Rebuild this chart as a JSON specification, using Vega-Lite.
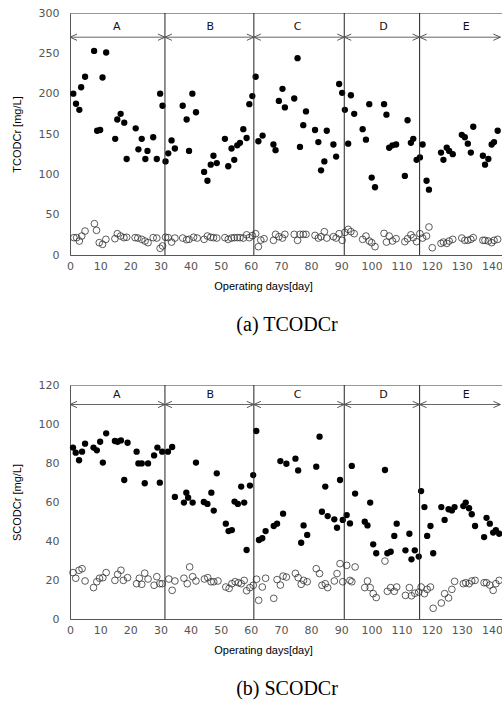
{
  "$schema": "https://vega.github.io/schema/vega-lite/v6.json",
  "background": "white",
  "padding": {"left": 10, "top": 6, "right": 0, "bottom": 0},
  "spacing": 42,
  "config": {
    "view": {"stroke": "#999", "strokeWidth": 1},
    "font": "Liberation Sans",
    "axis": {"grid": false, "ticks": false, "domainColor": "#555", "labelColor": "#555", "labelFontSize": 11, "labelFont": "DejaVu Sans", "labelOverlap": false, "labelFlush": false, "labelSeparation": 0, "titleFont": "Liberation Sans", "titleFontSize": 11, "titleFontWeight": "normal", "titleColor": "#000"},
    "title": {"font": "Liberation Serif", "fontSize": 20, "fontWeight": "normal", "color": "#000", "orient": "bottom", "offset": 24}
  },
  "datasets": {
    "phases": [{"d": 31.5}, {"d": 61}, {"d": 91}, {"d": 116}],
    "tI": [
      {"d":1.1,"v":200},{"d":2,"v":187.5},{"d":3.1,"v":180},{"d":3.7,"v":208},{"d":5,"v":221},{"d":8,"v":253},{"d":9,"v":154},{"d":10,"v":155},{"d":10.8,"v":220},{"d":12,"v":251},
      {"d":15,"v":144},{"d":15.7,"v":168},{"d":16.8,"v":175},{"d":18,"v":164},{"d":18.8,"v":119},{"d":21.8,"v":157},{"d":22.7,"v":131},{"d":23.8,"v":144},{"d":25,"v":119},{"d":25.7,"v":129},
      {"d":27.6,"v":146},{"d":28.8,"v":119},{"d":29.9,"v":200},{"d":30.7,"v":185},{"d":31.7,"v":116},{"d":32.6,"v":126},{"d":33.7,"v":142},{"d":34.8,"v":132},{"d":37.4,"v":185},{"d":38.7,"v":168},
      {"d":39.5,"v":129},{"d":40.6,"v":200},{"d":41.8,"v":177},{"d":44.5,"v":103},{"d":45.6,"v":92},{"d":46.7,"v":112},{"d":47.6,"v":123},{"d":48.7,"v":114},{"d":51.4,"v":144},{"d":52.5,"v":110},
      {"d":53.6,"v":132},{"d":54.5,"v":118},{"d":55.5,"v":136},{"d":56.4,"v":139},{"d":57.5,"v":156},{"d":58.6,"v":145},{"d":59.5,"v":187},{"d":60.5,"v":197},{"d":61.6,"v":221},{"d":62.5,"v":141},
      {"d":63.9,"v":148},{"d":67.5,"v":137},{"d":68.2,"v":130},{"d":69.3,"v":191},{"d":70.5,"v":206},{"d":71.3,"v":183},{"d":74.4,"v":194},{"d":75.5,"v":244},{"d":76.3,"v":134},{"d":77.4,"v":161},
      {"d":78.3,"v":178},{"d":81.3,"v":155},{"d":82.4,"v":140},{"d":83.3,"v":105},{"d":84.4,"v":116},{"d":85.2,"v":154},{"d":87.4,"v":137},{"d":88.3,"v":122},{"d":89.3,"v":212},{"d":90.3,"v":201},
      {"d":91.2,"v":180},{"d":92.3,"v":138},{"d":93.2,"v":198},{"d":94.3,"v":175},{"d":97.1,"v":156},{"d":98.2,"v":143},{"d":99.3,"v":187},{"d":100.1,"v":96},{"d":101.2,"v":84},{"d":104.2,"v":187},
      {"d":105,"v":174},{"d":105.9,"v":133},{"d":107,"v":136},{"d":108.2,"v":137},{"d":111.1,"v":98},{"d":112,"v":167},{"d":113.1,"v":139},{"d":113.9,"v":144},{"d":115,"v":118},{"d":116.1,"v":121},
      {"d":117,"v":137},{"d":118.3,"v":92},{"d":119.1,"v":81},{"d":123.1,"v":127},{"d":123.9,"v":118},{"d":125,"v":133},{"d":125.8,"v":129},{"d":127,"v":125},{"d":130,"v":149},{"d":131,"v":146},
      {"d":132,"v":138},{"d":133,"v":127},{"d":133.8,"v":159},{"d":137,"v":123},{"d":137.7,"v":112},{"d":138.8,"v":119},{"d":139.9,"v":137},{"d":140.7,"v":140},{"d":141.9,"v":154}
    ],
    "tE": [
      {"d":1.3,"v":21.5},{"d":2.2,"v":21.5},{"d":3.1,"v":17.3},{"d":3.9,"v":23.5},{"d":5,"v":29.7},{"d":8.1,"v":38.8},{"d":8.8,"v":30.6},{"d":9.7,"v":15.3},{"d":10.8,"v":13.2},{"d":11.9,"v":19.4},
      {"d":14.9,"v":20.2},{"d":15.7,"v":26.4},{"d":16.8,"v":23.5},{"d":17.9,"v":21.5},{"d":18.8,"v":22},{"d":21.6,"v":21.5},{"d":22.5,"v":21},{"d":23.8,"v":19.4},{"d":24.9,"v":17.3},{"d":25.9,"v":15.3},
      {"d":27.6,"v":21.5},{"d":28.8,"v":21},{"d":29.9,"v":8.3},{"d":30.7,"v":11.2},{"d":31.7,"v":22},{"d":32.6,"v":21.5},{"d":33.7,"v":16},{"d":34.8,"v":21},{"d":37.4,"v":21},{"d":38.7,"v":19},
      {"d":39.5,"v":19.4},{"d":41,"v":22},{"d":42.2,"v":21},{"d":44.5,"v":19.4},{"d":45.6,"v":23.5},{"d":46.7,"v":22},{"d":47.6,"v":21.5},{"d":48.7,"v":21},{"d":51.4,"v":21.5},{"d":52.5,"v":19.4},
      {"d":53.6,"v":21},{"d":54.5,"v":21.5},{"d":55.5,"v":21.5},{"d":56.4,"v":21.5},{"d":57.5,"v":21},{"d":58.6,"v":25},{"d":59.5,"v":21.5},{"d":60.5,"v":24},{"d":61.6,"v":26.4},{"d":62.5,"v":10.3},
      {"d":63.3,"v":18.5},{"d":64.4,"v":20.2},{"d":67.5,"v":18.2},{"d":68.2,"v":25.6},{"d":69.3,"v":22.7},{"d":70.5,"v":21},{"d":71.3,"v":25.6},{"d":74.4,"v":25.6},{"d":75.5,"v":18.2},{"d":76.3,"v":25.6},
      {"d":77.4,"v":25.6},{"d":78.3,"v":25.6},{"d":81.3,"v":24.3},{"d":82.4,"v":21},{"d":83.3,"v":22.7},{"d":84.4,"v":28.9},{"d":85.2,"v":21},{"d":87.4,"v":22.7},{"d":88.3,"v":21},{"d":89.3,"v":26.4},
      {"d":90.3,"v":18.2},{"d":91.2,"v":28},{"d":92.3,"v":31.8},{"d":93.2,"v":29},{"d":94.3,"v":26.4},{"d":97.1,"v":19.4},{"d":98.2,"v":23.5},{"d":99.3,"v":17.3},{"d":100.1,"v":15.3},{"d":101.2,"v":10.3},
      {"d":104.2,"v":26.8},{"d":105,"v":16},{"d":105.9,"v":23.5},{"d":107,"v":17.3},{"d":108.2,"v":20.2},{"d":111.1,"v":16.5},{"d":112,"v":20.2},{"d":113.1,"v":25},{"d":113.9,"v":21.5},{"d":115,"v":16.5},
      {"d":116.1,"v":26.4},{"d":117,"v":21},{"d":118.3,"v":23.5},{"d":119.1,"v":34.7},{"d":120.2,"v":9},{"d":123.1,"v":14.4},{"d":123.9,"v":16},{"d":125,"v":14.4},{"d":125.8,"v":17.3},{"d":127,"v":19.4},
      {"d":130,"v":21},{"d":131,"v":18.2},{"d":132,"v":18.2},{"d":133,"v":19.4},{"d":133.8,"v":21.5},{"d":137,"v":18.2},{"d":137.7,"v":18.2},{"d":138.8,"v":17.3},{"d":139.9,"v":15.3},{"d":140.7,"v":18.2},{"d":141.9,"v":19.4}
    ],
    "sI": [
      {"d":1,"v":87.9},{"d":1.9,"v":85.3},{"d":3,"v":81.4},{"d":4,"v":85.8},{"d":5,"v":89.9},{"d":7.8,"v":87.9},{"d":8.9,"v":86.5},{"d":10,"v":90.9},{"d":10.9,"v":80.2},{"d":12,"v":95.2},
      {"d":14.9,"v":91.3},{"d":15.8,"v":90.9},{"d":16.9,"v":91.6},{"d":18,"v":71.3},{"d":19.1,"v":90.4},{"d":22.1,"v":85.8},{"d":22.7,"v":79.8},{"d":23.8,"v":79.8},{"d":24.8,"v":69.6},{"d":25.9,"v":79.8},
      {"d":27.9,"v":83.9},{"d":29,"v":87.9},{"d":29.8,"v":69.9},{"d":30.6,"v":85.8},{"d":32.5,"v":85.8},{"d":33.9,"v":88.2},{"d":34.8,"v":62.6},{"d":37.8,"v":59.7},{"d":38.6,"v":64.8},{"d":39.2,"v":62.2},
      {"d":40.7,"v":59.7},{"d":41.8,"v":80.2},{"d":44.4,"v":60},{"d":45.6,"v":59},{"d":46.9,"v":64.8},{"d":47.7,"v":55.6},{"d":48.7,"v":74.7},{"d":51.7,"v":48.9},{"d":52.6,"v":45.1},{"d":53.7,"v":45.6},
      {"d":54.6,"v":60.2},{"d":55.7,"v":59},{"d":56.8,"v":67.9},{"d":57.8,"v":59.7},{"d":58.6,"v":35.4},{"d":59.7,"v":68.4},{"d":60.8,"v":73.8},{"d":61.8,"v":96.4},{"d":62.7,"v":40.5},{"d":63.8,"v":41.4},
      {"d":64.9,"v":45.1},{"d":67.6,"v":47.7},{"d":68.7,"v":48.9},{"d":69.8,"v":81},{"d":70.7,"v":54},{"d":71.8,"v":79.6},{"d":74.8,"v":82.2},{"d":75.7,"v":76.2},{"d":76.7,"v":39.1},{"d":77.5,"v":48},
      {"d":78.7,"v":43.1},{"d":81.7,"v":78.1},{"d":82.8,"v":93.5},{"d":83.6,"v":55},{"d":84.7,"v":67.9},{"d":85.5,"v":52.8},{"d":87.7,"v":51.1},{"d":88.6,"v":46.8},{"d":89.6,"v":71.3},{"d":90.5,"v":50.8},
      {"d":91.8,"v":53.3},{"d":92.9,"v":49},{"d":93.5,"v":78.5},{"d":94.6,"v":64.3},{"d":97.8,"v":49.9},{"d":98.7,"v":48},{"d":99.6,"v":59.7},{"d":100.6,"v":38.3},{"d":101.6,"v":33.7},{"d":104.5,"v":76.4},
      {"d":105.3,"v":33.7},{"d":106.4,"v":34.5},{"d":107.6,"v":42.6},{"d":108.4,"v":48.9},{"d":111.3,"v":35.2},{"d":112.6,"v":43.7},{"d":113.3,"v":30.6},{"d":114.4,"v":35.2},{"d":115.7,"v":32},{"d":116.5,"v":65.6},
      {"d":117.6,"v":57.4},{"d":118.5,"v":42.6},{"d":119.6,"v":47.7},{"d":120.5,"v":33.7},{"d":123.2,"v":57.4},{"d":124.3,"v":50.8},{"d":125.6,"v":56.3},{"d":126.7,"v":55.7},{"d":127.6,"v":57.4},{"d":130.5,"v":57.9},
      {"d":131.3,"v":59.7},{"d":132.4,"v":56.8},{"d":133.3,"v":53.7},{"d":134.4,"v":47.7},{"d":137.4,"v":42},{"d":138.2,"v":51.9},{"d":139.3,"v":48.9},{"d":140.4,"v":44.3},{"d":141.3,"v":45.5},{"d":142.4,"v":43.7}
    ],
    "sE": [
      {"d":1,"v":23.8},{"d":1.9,"v":20.9},{"d":3,"v":25},{"d":4,"v":25.8},{"d":5,"v":19.5},{"d":7.8,"v":16.1},{"d":8.9,"v":19.1},{"d":9.8,"v":20.9},{"d":10.9,"v":21.2},{"d":12,"v":23.8},
      {"d":14.9,"v":19.8},{"d":15.8,"v":22.9},{"d":16.9,"v":25},{"d":17.7,"v":19.8},{"d":19.1,"v":21.2},{"d":22.1,"v":18.1},{"d":23,"v":20.9},{"d":23.8,"v":17.8},{"d":24.8,"v":23.5},{"d":25.9,"v":20.5},
      {"d":27.9,"v":17.3},{"d":28.8,"v":21.7},{"d":29.8,"v":18.1},{"d":30.6,"v":18.1},{"d":32.8,"v":20.5},{"d":33.9,"v":14.7},{"d":34.8,"v":19.5},{"d":37.8,"v":20.9},{"d":38.9,"v":18.1},{"d":39.7,"v":26.7},
      {"d":40.7,"v":21.7},{"d":41.8,"v":19.5},{"d":44.6,"v":20.5},{"d":45.7,"v":21.2},{"d":46.8,"v":19.1},{"d":47.7,"v":19.1},{"d":49.1,"v":19.5},{"d":51.7,"v":16.4},{"d":52.8,"v":15.7},{"d":53.7,"v":18.1},
      {"d":54.8,"v":19.1},{"d":55.9,"v":18.6},{"d":56.8,"v":18.1},{"d":57.8,"v":19.8},{"d":58.6,"v":14.5},{"d":59.7,"v":16.1},{"d":60.8,"v":17.3},{"d":61.9,"v":20.4},{"d":62.6,"v":9.6},{"d":63.8,"v":16.4},
      {"d":64.9,"v":20.9},{"d":67.6,"v":10.6},{"d":68.7,"v":20.2},{"d":69.8,"v":17.4},{"d":70.7,"v":22},{"d":71.8,"v":21.5},{"d":74.8,"v":23.4},{"d":75.7,"v":21.2},{"d":76.7,"v":17.8},{"d":77.5,"v":19.8},
      {"d":78.7,"v":19.1},{"d":81.7,"v":25.8},{"d":82.8,"v":23.3},{"d":83.6,"v":17.3},{"d":84.7,"v":18.1},{"d":85.5,"v":16.1},{"d":87.7,"v":19.5},{"d":88.6,"v":23.3},{"d":89.6,"v":28.4},{"d":90.5,"v":19.1},
      {"d":91.8,"v":27.5},{"d":92.9,"v":19.8},{"d":93.5,"v":19.1},{"d":94.6,"v":26.7},{"d":97.8,"v":16.1},{"d":98.7,"v":19.5},{"d":99.6,"v":16.1},{"d":100.6,"v":13},{"d":101.6,"v":11},{"d":104.5,"v":29.7},
      {"d":105.3,"v":14.2},{"d":106.4,"v":16.1},{"d":107.6,"v":14.2},{"d":108.4,"v":16.4},{"d":111.3,"v":12.1},{"d":112.6,"v":16.1},{"d":113.3,"v":11.9},{"d":114.4,"v":13.2},{"d":115.7,"v":13.8},{"d":116.5,"v":16.4},
      {"d":117.6,"v":13},{"d":118.5,"v":15.2},{"d":119.6,"v":16.4},{"d":120.5,"v":5.5},{"d":123.2,"v":8.2},{"d":124.3,"v":13},{"d":125.6,"v":10.8},{"d":126.7,"v":15.2},{"d":127.6,"v":19.3},{"d":130.5,"v":18.1},
      {"d":131.3,"v":18.6},{"d":132.4,"v":18.1},{"d":133.3,"v":19.5},{"d":134.4,"v":19.8},{"d":137.4,"v":18.6},{"d":138.2,"v":18.6},{"d":139.3,"v":17.4},{"d":140.4,"v":14.7},{"d":141.3,"v":18.1},{"d":142.4,"v":19.8}
    ]
  },
  "vconcat": [
    {
      "width": 434,
      "height": 242,
      "title": {"text": "(a) TCODCr", "orient": "bottom"},
      "layer": [
        {
          "data": {"name": "tI"},
          "mark": {"type": "circle", "color": "#000", "opacity": 1, "size": 40},
          "encoding": {
            "x": {"field": "d", "type": "quantitative", "scale": {"domain": [0, 144], "nice": false},
                  "axis": {"values": [0,10,20,30,40,50,60,70,80,90,100,110,120,130,140], "tickCount": 15, "labelOverlap": false, "labelFlush": false, "title": "Operating days[day]", "labelPadding": 5, "titlePadding": 9, "titleX": 193}},
            "y": {"field": "v", "type": "quantitative", "scale": {"domain": [0, 300], "nice": false},
                  "axis": {"values": [0,50,100,150,200,250,300], "tickCount": 7, "labelOverlap": false, "labelFlush": false, "title": "TCODCr [mg/L]", "labelPadding": 11, "titlePadding": 16}}
          }
        },
        {
          "data": {"name": "tE"},
          "mark": {"type": "point", "shape": "circle", "filled": false, "stroke": "#333", "strokeWidth": 0.8, "opacity": 1, "size": 45},
          "encoding": {
            "x": {"field": "d", "type": "quantitative"},
            "y": {"field": "v", "type": "quantitative"}
          }
        },
        {
          "data": {"name": "phases"},
          "mark": {"type": "rule", "color": "#222", "strokeWidth": 1},
          "encoding": {"x": {"field": "d", "type": "quantitative"}}
        },
        {
          "data": {"values": [{"d": 0, "d2": 142.8, "v": 270}]},
          "mark": {"type": "rule", "color": "#666", "strokeWidth": 1},
          "encoding": {
            "x": {"field": "d", "type": "quantitative"},
            "x2": {"field": "d2"},
            "y": {"field": "v", "type": "quantitative"}
          }
        },
        {
          "data": {"values": [
            {"d": 0, "v": 270, "dir": "L"}, {"d": 31.5, "v": 270, "dir": "R"}, {"d": 31.5, "v": 270, "dir": "L"},
            {"d": 61, "v": 270, "dir": "R"}, {"d": 61, "v": 270, "dir": "L"}, {"d": 91, "v": 270, "dir": "R"},
            {"d": 91, "v": 270, "dir": "L"}, {"d": 116, "v": 270, "dir": "R"}, {"d": 116, "v": 270, "dir": "L"},
            {"d": 142.8, "v": 270, "dir": "R"}
          ]},
          "mark": {"type": "point", "filled": false, "stroke": "#555", "strokeWidth": 1, "size": 196, "opacity": 1},
          "encoding": {
            "x": {"field": "d", "type": "quantitative"},
            "y": {"field": "v", "type": "quantitative"},
            "shape": {"field": "dir", "type": "nominal", "legend": null,
                      "scale": {"domain": ["L", "R"], "range": ["M 1 -0.45 L 0 0 L 1 0.45", "M -1 -0.45 L 0 0 L -1 0.45"]}}
          }
        },
        {
          "data": {"values": [
            {"d": 15.5, "v": 283, "t": "A"}, {"d": 46.5, "v": 283, "t": "B"}, {"d": 75.5, "v": 283, "t": "C"},
            {"d": 104, "v": 283, "t": "D"}, {"d": 131.5, "v": 283, "t": "E"}
          ]},
          "mark": {"type": "text", "fontSize": 11, "font": "DejaVu Sans", "color": "#111", "baseline": "middle", "align": "center"},
          "encoding": {
            "x": {"field": "d", "type": "quantitative"},
            "y": {"field": "v", "type": "quantitative"},
            "text": {"field": "t"}
          }
        }
      ]
    },
    {
      "width": 434,
      "height": 234,
      "title": {"text": "(b) SCODCr", "orient": "bottom"},
      "layer": [
        {
          "data": {"name": "sI"},
          "mark": {"type": "circle", "color": "#000", "opacity": 1, "size": 40},
          "encoding": {
            "x": {"field": "d", "type": "quantitative", "scale": {"domain": [0, 144], "nice": false},
                  "axis": {"values": [0,10,20,30,40,50,60,70,80,90,100,110,120,130,140], "tickCount": 15, "labelOverlap": false, "labelFlush": false, "title": "Operating days[day]", "labelPadding": 5, "titlePadding": 9, "titleX": 193}},
            "y": {"field": "v", "type": "quantitative", "scale": {"domain": [0, 120], "nice": false},
                  "axis": {"values": [0,20,40,60,80,100,120], "tickCount": 7, "labelOverlap": false, "labelFlush": false, "title": "SCODCr [mg/L]", "labelPadding": 11, "titlePadding": 16}}
          }
        },
        {
          "data": {"name": "sE"},
          "mark": {"type": "point", "shape": "circle", "filled": false, "stroke": "#333", "strokeWidth": 0.8, "opacity": 1, "size": 45},
          "encoding": {
            "x": {"field": "d", "type": "quantitative"},
            "y": {"field": "v", "type": "quantitative"}
          }
        },
        {
          "data": {"name": "phases"},
          "mark": {"type": "rule", "color": "#222", "strokeWidth": 1},
          "encoding": {"x": {"field": "d", "type": "quantitative"}}
        },
        {
          "data": {"values": [{"d": 0, "d2": 142.8, "v": 110}]},
          "mark": {"type": "rule", "color": "#666", "strokeWidth": 1},
          "encoding": {
            "x": {"field": "d", "type": "quantitative"},
            "x2": {"field": "d2"},
            "y": {"field": "v", "type": "quantitative"}
          }
        },
        {
          "data": {"values": [
            {"d": 0, "v": 110, "dir": "L"}, {"d": 31.5, "v": 110, "dir": "R"}, {"d": 31.5, "v": 110, "dir": "L"},
            {"d": 61, "v": 110, "dir": "R"}, {"d": 61, "v": 110, "dir": "L"}, {"d": 91, "v": 110, "dir": "R"},
            {"d": 91, "v": 110, "dir": "L"}, {"d": 116, "v": 110, "dir": "R"}, {"d": 116, "v": 110, "dir": "L"},
            {"d": 142.8, "v": 110, "dir": "R"}
          ]},
          "mark": {"type": "point", "filled": false, "stroke": "#555", "strokeWidth": 1, "size": 196, "opacity": 1},
          "encoding": {
            "x": {"field": "d", "type": "quantitative"},
            "y": {"field": "v", "type": "quantitative"},
            "shape": {"field": "dir", "type": "nominal", "legend": null,
                      "scale": {"domain": ["L", "R"], "range": ["M 1 -0.45 L 0 0 L 1 0.45", "M -1 -0.45 L 0 0 L -1 0.45"]}}
          }
        },
        {
          "data": {"values": [
            {"d": 15.5, "v": 115, "t": "A"}, {"d": 46.5, "v": 115, "t": "B"}, {"d": 75.5, "v": 115, "t": "C"},
            {"d": 104, "v": 115, "t": "D"}, {"d": 131.5, "v": 115, "t": "E"}
          ]},
          "mark": {"type": "text", "fontSize": 11, "font": "DejaVu Sans", "color": "#111", "baseline": "middle", "align": "center"},
          "encoding": {
            "x": {"field": "d", "type": "quantitative"},
            "y": {"field": "v", "type": "quantitative"},
            "text": {"field": "t"}
          }
        }
      ]
    }
  ]
}
